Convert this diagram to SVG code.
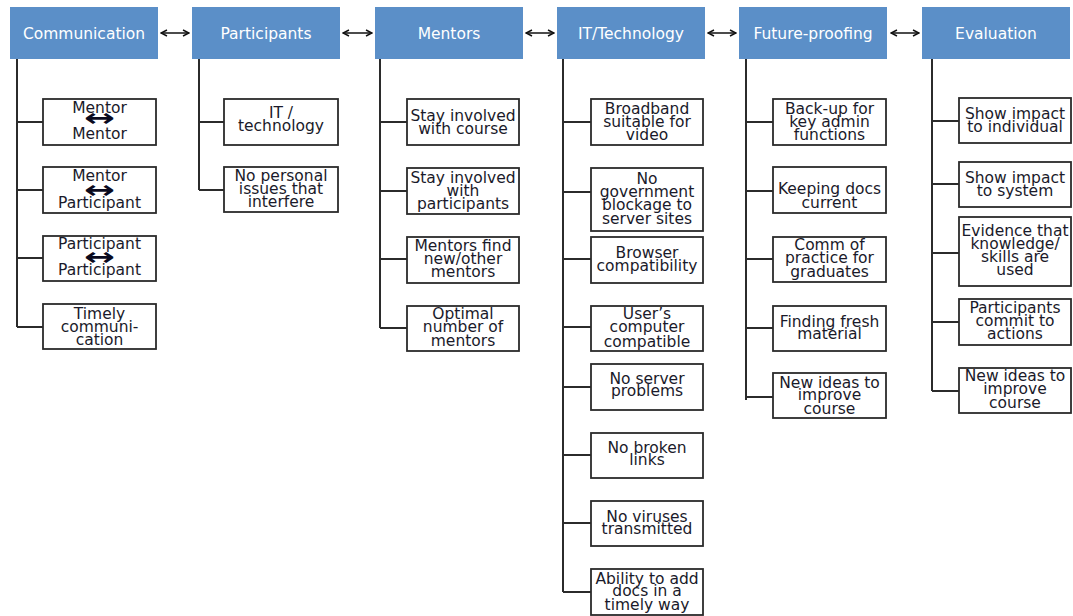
<svg xmlns="http://www.w3.org/2000/svg" width="1073" height="616" viewBox="0 0 1073 616">
<style>
.hdr{fill:#5b8fc8}
.ht{font-family:"DejaVu Sans",Verdana,sans-serif;font-size:15.5px;fill:#ffffff;text-anchor:middle}
.box{fill:#ffffff;stroke:#2b2b2b;stroke-width:1.8}
.t{font-family:"DejaVu Sans",Verdana,sans-serif;font-size:15.5px;fill:#1a1a2a;text-anchor:middle}
.ar{font-family:"DejaVu Sans",sans-serif;font-size:24px;font-weight:bold;fill:#0a0a1e;text-anchor:middle}
.ln{stroke:#2b2b2b;stroke-width:2;fill:none}
.ha{stroke:#111;stroke-width:1.5;fill:none;marker-start:url(#ah);marker-end:url(#ah)}
</style>
<defs>
<marker id="ah" viewBox="0 0 8 8" refX="7" refY="4" markerWidth="8" markerHeight="8" markerUnits="userSpaceOnUse" orient="auto-start-reverse">
<path d="M1,1 L7,4 L1,7" stroke="#111" stroke-width="1.5" fill="none"/>
</marker>
</defs>
<rect width="1073" height="616" fill="#ffffff"/>

<g id="connectors">
<line class="ha" x1="161" y1="33" x2="189" y2="33"/>
<line class="ha" x1="343" y1="33" x2="372" y2="33"/>
<line class="ha" x1="526" y1="33" x2="554" y2="33"/>
<line class="ha" x1="708" y1="33" x2="736" y2="33"/>
<line class="ha" x1="891" y1="33" x2="919" y2="33"/>
<path class="ln" d="M17,59 V327 M17,122 H43 M17,190 H43 M17,258 H43 M17,327 H43"/>
<path class="ln" d="M199,59 V190 M199,122 H224 M199,190 H224"/>
<path class="ln" d="M380,59 V328 M380,122 H407 M380,191 H407 M380,259 H407 M380,328 H407"/>
<path class="ln" d="M563,59 V592 M563,122 H591 M563,192 H591 M563,259 H591 M563,327 H591 M563,387 H591 M563,455 H591 M563,523 H591 M563,592 H591"/>
<path class="ln" d="M746,59 V400 M746,122 H773 M746,191 H773 M746,259 H773 M746,328 H773 M746,397 H773"/>
<path class="ln" d="M932,59 V391 M932,121 H959 M932,184 H959 M932,253 H959 M932,322 H959 M932,391 H959"/>
</g>

<g id="h-communication"><rect class="hdr" x="10" y="7" width="148" height="52"/><text class="ht" x="84" y="38.5">Communication</text></g>
<g id="h-participants"><rect class="hdr" x="192" y="7" width="148" height="52"/><text class="ht" x="266" y="38.5">Participants</text></g>
<g id="h-mentors"><rect class="hdr" x="375" y="7" width="148" height="52"/><text class="ht" x="449" y="38.5">Mentors</text></g>
<g id="h-it"><rect class="hdr" x="557" y="7" width="148" height="52"/><text class="ht" x="631" y="38.5">IT/Technology</text></g>
<g id="h-future"><rect class="hdr" x="739" y="7" width="148" height="52"/><text class="ht" x="813" y="38.5">Future-proofing</text></g>
<g id="h-evaluation"><rect class="hdr" x="922" y="7" width="148" height="52"/><text class="ht" x="996" y="38.5">Evaluation</text></g>

<g id="c1"><rect class="box" x="43" y="99" width="113" height="46"/><text class="t"><tspan x="99.5" y="112.5">Mentor</tspan><tspan x="99.5" y="138.5">Mentor</tspan></text><text class="ar" x="99.5" y="125.5" textLength="31" lengthAdjust="spacingAndGlyphs">↔</text></g>
<g id="c2"><rect class="box" x="43" y="167" width="113" height="46"/><text class="t"><tspan x="99.5" y="180.5">Mentor</tspan><tspan x="99.5" y="207.5">Participant</tspan></text><text class="ar" x="99.5" y="197.5" textLength="31" lengthAdjust="spacingAndGlyphs">↔</text></g>
<g id="c3"><rect class="box" x="43" y="236" width="113" height="45"/><text class="t"><tspan x="99.5" y="248.5">Participant</tspan><tspan x="99.5" y="274.5">Participant</tspan></text><text class="ar" x="99.5" y="264.5" textLength="31" lengthAdjust="spacingAndGlyphs">↔</text></g>
<g id="c4"><rect class="box" x="43" y="304" width="113" height="45"/><text class="t"><tspan x="99.5" y="318.5">Timely</tspan><tspan x="99.5" y="331.5">communi-</tspan><tspan x="99.5" y="345">cation</tspan></text></g>

<g id="p1"><rect class="box" x="224" y="99" width="114" height="46"/><text class="t"><tspan x="281" y="117.5">IT /</tspan><tspan x="281" y="130.5">technology</tspan></text></g>
<g id="p2"><rect class="box" x="224" y="167" width="114" height="45"/><text class="t"><tspan x="281" y="180.5">No personal</tspan><tspan x="281" y="193.5">issues that</tspan><tspan x="281" y="207">interfere</tspan></text></g>

<g id="m1"><rect class="box" x="407" y="99" width="112" height="46"/><text class="t"><tspan x="463" y="120.5">Stay involved</tspan><tspan x="463" y="133.5">with course</tspan></text></g>
<g id="m2"><rect class="box" x="407" y="168" width="112" height="46"/><text class="t"><tspan x="463" y="182.5">Stay involved</tspan><tspan x="463" y="195.5">with</tspan><tspan x="463" y="208.5">participants</tspan></text></g>
<g id="m3"><rect class="box" x="407" y="237" width="112" height="46"/><text class="t"><tspan x="463" y="250.5">Mentors find</tspan><tspan x="463" y="263.5">new/other</tspan><tspan x="463" y="277">mentors</tspan></text></g>
<g id="m4"><rect class="box" x="407" y="306" width="112" height="45"/><text class="t"><tspan x="463" y="318.5">Optimal</tspan><tspan x="463" y="332">number of</tspan><tspan x="463" y="345.5">mentors</tspan></text></g>

<g id="i1"><rect class="box" x="591" y="99" width="112" height="46"/><text class="t"><tspan x="647" y="113.5">Broadband</tspan><tspan x="647" y="126.5">suitable for</tspan><tspan x="647" y="139.5">video</tspan></text></g>
<g id="i2"><rect class="box" x="591" y="168" width="112" height="63"/><text class="t"><tspan x="647" y="183.5">No</tspan><tspan x="647" y="196.5">government</tspan><tspan x="647" y="210">blockage to</tspan><tspan x="647" y="223.5">server sites</tspan></text></g>
<g id="i3"><rect class="box" x="591" y="237" width="112" height="46"/><text class="t"><tspan x="647" y="258">Browser</tspan><tspan x="647" y="270.5">compatibility</tspan></text></g>
<g id="i4"><rect class="box" x="591" y="306" width="112" height="45"/><text class="t"><tspan x="647" y="318.5">User’s</tspan><tspan x="647" y="331.5">computer</tspan><tspan x="647" y="346.5">compatible</tspan></text></g>
<g id="i5"><rect class="box" x="591" y="364" width="112" height="46"/><text class="t"><tspan x="647" y="383.5">No server</tspan><tspan x="647" y="396">problems</tspan></text></g>
<g id="i6"><rect class="box" x="591" y="433" width="112" height="45"/><text class="t"><tspan x="647" y="452.5">No broken</tspan><tspan x="647" y="464.5">links</tspan></text></g>
<g id="i7"><rect class="box" x="591" y="501" width="112" height="45"/><text class="t"><tspan x="647" y="521.5">No viruses</tspan><tspan x="647" y="533.5">transmitted</tspan></text></g>
<g id="i8"><rect class="box" x="591" y="569" width="112" height="46"/><text class="t"><tspan x="647" y="583.5">Ability to add</tspan><tspan x="647" y="596">docs in a</tspan><tspan x="647" y="610">timely way</tspan></text></g>

<g id="f1"><rect class="box" x="773" y="99" width="113" height="46"/><text class="t"><tspan x="829.5" y="113.5">Back-up for</tspan><tspan x="829.5" y="126.5">key admin</tspan><tspan x="829.5" y="139.5">functions</tspan></text></g>
<g id="f2"><rect class="box" x="773" y="167" width="113" height="46"/><text class="t"><tspan x="829.5" y="194">Keeping docs</tspan><tspan x="829.5" y="208">current</tspan></text></g>
<g id="f3"><rect class="box" x="773" y="237" width="113" height="45"/><text class="t"><tspan x="829.5" y="249.5">Comm of</tspan><tspan x="829.5" y="263">practice for</tspan><tspan x="829.5" y="276.5">graduates</tspan></text></g>
<g id="f4"><rect class="box" x="773" y="306" width="113" height="45"/><text class="t"><tspan x="829.5" y="326.5">Finding fresh</tspan><tspan x="829.5" y="338.5">material</tspan></text></g>
<g id="f5"><rect class="box" x="773" y="373" width="113" height="45"/><text class="t"><tspan x="829.5" y="387.5">New ideas to</tspan><tspan x="829.5" y="400">improve</tspan><tspan x="829.5" y="413.5">course</tspan></text></g>

<g id="e1"><rect class="box" x="959" y="98" width="112" height="45"/><text class="t"><tspan x="1015" y="118.5">Show impact</tspan><tspan x="1015" y="131.5">to individual</tspan></text></g>
<g id="e2"><rect class="box" x="959" y="162" width="112" height="45"/><text class="t"><tspan x="1015" y="182.5">Show impact</tspan><tspan x="1015" y="195.5">to system</tspan></text></g>
<g id="e3"><rect class="box" x="959" y="217" width="112" height="69"/><text class="t"><tspan x="1015" y="235.5">Evidence that</tspan><tspan x="1015" y="248.5">knowledge/</tspan><tspan x="1015" y="261.5">skills are</tspan><tspan x="1015" y="274.5">used</tspan></text></g>
<g id="e4"><rect class="box" x="959" y="299" width="112" height="46"/><text class="t"><tspan x="1015" y="312.5">Participants</tspan><tspan x="1015" y="326">commit to</tspan><tspan x="1015" y="338.5">actions</tspan></text></g>
<g id="e5"><rect class="box" x="959" y="368" width="112" height="45"/><text class="t"><tspan x="1015" y="380.5">New ideas to</tspan><tspan x="1015" y="393.5">improve</tspan><tspan x="1015" y="408">course</tspan></text></g>
</svg>
